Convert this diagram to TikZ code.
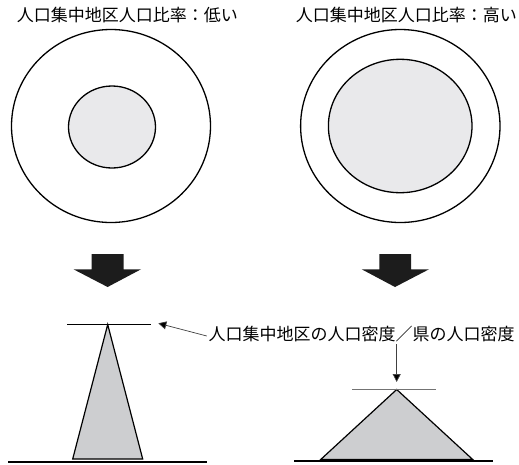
\documentclass[tikz,border=0pt]{standalone}
\usepackage{fontspec}
\newfontfamily\jp{Noto Sans CJK JP}
\usetikzlibrary{arrows.meta}
\definecolor{innerfill}{HTML}{E9E9EB}
\definecolor{trifill}{HTML}{CDCED0}
\definecolor{blockarrow}{HTML}{1C1C1C}
\begin{document}
\begin{tikzpicture}[x=1pt,y=-1pt,
  lbl/.style={inner sep=0pt,font=\jp\fontsize{17}{17}\selectfont,anchor=west},
  outline/.style={draw=black,line width=1.3pt},
  innerdisk/.style={outline,fill=innerfill},
  tri/.style={draw=black,line width=1.2pt,fill=trifill,line join=miter},
  ground/.style={draw=black,line width=2pt},
  marker/.style={line width=1pt},
  bigarrow/.style={fill=blockarrow,draw=none},
  ptr/.style={draw=black!75,line width=0.7pt,-{Triangle[length=8pt,width=8pt,fill=black]}}]
\useasboundingbox (0,0) rectangle (519,464);

% titles
\node[lbl] (t1) at (16.7,15) {人口集中地区人口比率：低い};
\node[lbl,anchor=east] (t2) at (517,15) {人口集中地区人口比率：高い};

% circles
\draw[outline] (111,126) ellipse [x radius=99.5, y radius=96.5];
\draw[innerdisk] (112,127) ellipse [x radius=43.5, y radius=41];
\draw[outline] (400.3,126) ellipse [x radius=99.7, y radius=96.5];
\draw[innerdisk] (400.2,126) ellipse [x radius=71.8, y radius=66.7];

% block arrows
\fill[bigarrow] (91.5,254) -- (123.5,254) -- (123.5,269.3) -- (141,269.3) -- (107.6,287) -- (73.5,269.3) -- (91.5,269.3) -- cycle;
\fill[bigarrow] (379.3,254) -- (411,254) -- (411,269.3) -- (429,269.3) -- (395,287) -- (361.7,269.3) -- (379.3,269.3) -- cycle;

% left profile
\draw[tri] (107.7,324.5) -- (142.7,459) -- (72.7,459) -- cycle;
\draw[ground] (8.3,461.7) -- (206.7,461.7);
\draw[marker,draw=black] (67.3,324) -- (150.7,324);

% right profile
\draw[tri] (396.7,389.5) -- (472.7,459.5) -- (320.7,459.5) -- cycle;
\draw[ground] (294,461) -- (492.7,461);
\draw[marker,draw=black!55] (352.3,389) -- (435.7,389);

% label and pointers
\node[lbl] (lab) at (208.3,334) {人口集中地区の人口密度／県の人口密度};
\coordinate (lt) at (158.3,323.3);
\coordinate (rt) at (396.7,382);
\draw[ptr] ([shift={(-1.5,2)}]lab.west) -- (lt);
\draw[ptr] (rt |- lab.south) ++(0,2) -- (rt);
\end{tikzpicture}
\end{document}
